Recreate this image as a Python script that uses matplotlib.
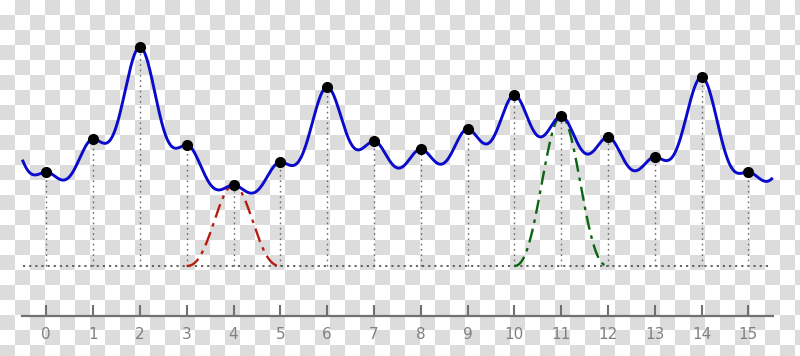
import numpy as np
import matplotlib
matplotlib.use("Agg")
import matplotlib.pyplot as plt

matplotlib.rcParams.update({"font.family": "DejaVu Sans"})

# sample positions and values (height above the dotted baseline)
SAMPLE_X = list(range(16))
SAMPLE_Y = [0.94, 1.27, 2.19, 1.21, 0.81, 1.04, 1.79, 1.25,
            1.17, 1.37, 1.71, 1.50, 1.29, 1.09, 1.89, 0.94]
# samples just outside the drawn range (they shape the curve ends)
EDGE_X = [-1, 16]
EDGE_Y = [1.65, 1.21]
KERNEL_AT = [4, 11]
KERNEL_COLORS = ["#b81c10", "#0a6410"]
TICK_LABELS = [str(i) for i in SAMPLE_X]


def lanczos1(t):
    t = np.asarray(t, dtype=float)
    return np.where(np.abs(t) < 1, np.sinc(t) ** 2, 0.0)


W, H = 800, 356
fig = plt.figure(figsize=(W / 100, H / 100), dpi=100)

# transparent-background checkerboard, 15 px squares
bg = fig.add_axes([0, 0, 1, 1])
rows, cols = int(np.ceil(H / 15)) + 1, int(np.ceil(W / 15)) + 1
board = (np.add.outer(np.arange(rows), np.arange(cols)) % 2).astype(float)
bg.imshow(board, cmap=matplotlib.colors.ListedColormap(["#ffffff", "#dcdcdc"]),
          extent=(0, cols * 15, rows * 15, 0), interpolation="nearest", aspect="auto")
bg.set_xlim(0, W); bg.set_ylim(H, 0); bg.axis("off")

ax = fig.add_axes([0, 0, 1, 1])
ax.patch.set_alpha(0)
px = 46.8
ax.set_xlim(-46.3 / px, (W - 46.3) / px)
ax.set_ylim((266 - H) / 100, 2.66)

all_x = np.array(EDGE_X[:1] + SAMPLE_X + EDGE_X[1:], dtype=float)
all_y = np.array(EDGE_Y[:1] + SAMPLE_Y + EDGE_Y[1:], dtype=float)
xs = np.linspace(-0.5, 15.5, 1601)
curve = (all_y[None, :] * lanczos1(xs[:, None] - all_x[None, :])).sum(axis=1)

ax.hlines(0, -0.5, 15.5, colors="#555555", linestyles=(0, (1.2, 2.2)), lw=1.3, zorder=2)
ax.vlines(SAMPLE_X, 0, SAMPLE_Y, colors="#6a6a6a", linestyles=(0, (1.2, 2.6)), lw=1.0, zorder=2)

for k, c in zip(KERNEL_AT, KERNEL_COLORS):
    kx = np.linspace(k - 1, k + 1, 201)
    ax.plot(kx, SAMPLE_Y[k] * lanczos1(kx - k), color=c, lw=1.7,
            linestyle=(0, (6, 2.5, 1.5, 2.5)), zorder=3)

ax.plot(xs, curve, color="#0a0acc", lw=2.1, zorder=4)
ax.plot(SAMPLE_X, SAMPLE_Y, "o", color="black", ms=7, zorder=5)

for s in ["top", "right", "left"]:
    ax.spines[s].set_visible(False)
ax.spines["bottom"].set_position(("data", -0.5))
ax.spines["bottom"].set_bounds(-0.52, 15.52)
ax.spines["bottom"].set_color("#707070")
ax.spines["bottom"].set_linewidth(1.6)
ax.set_yticks([])
ax.set_xticks(SAMPLE_X)
ax.set_xticklabels(TICK_LABELS)
ax.tick_params(axis="x", direction="in", length=8, width=1.5, color="#707070",
               labelcolor="#808080", labelsize=11, pad=8)

fig.savefig("out.png", dpi=100)
